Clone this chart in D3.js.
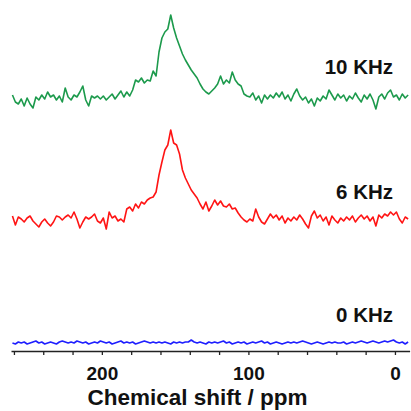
<!DOCTYPE html>
<html>
<head>
<meta charset="utf-8">
<script src="https://cdn.jsdelivr.net/npm/d3@7"></script>
<style>
  html, body { margin: 0; padding: 0; background: #fff; }
  svg { display: block; }
  text { font-family: Arial, "Liberation Sans", sans-serif; font-weight: bold; fill: #111; }
</style>
</head>
<body>
<svg id="chart" width="411" height="411"></svg>
<script>
// Chemical shift grid (ppm): 261 down to -9 in 2 ppm steps
const ppmStart = 261;
const ppmStep = 2;

// Spectrum intensities (a.u., baseline-corrected) at each grid point
const int10kHz = [
  3, -4, -6, -1, -8, 0, -6, -10, 1, -2,
  3, -1, 6, 1, 3, -2, 2, -4, 10, 1,
  -2, 3, 1, 6, 12, -2, -8, 2, 0, 2,
  -1, 2, -2, 1, 4, -1, 3, 7, 1, 6,
  2, 8, 18, 16, 20, 15, 18, 17, 27, 22,
  46, 60, 66, 69, 83, 70, 60, 52, 44, 38,
  33, 28, 24, 20, 14, 9, 6, 4, 7, 10,
  14, 22, 14, 18, 15, 26, 18, 14, 12, 4,
  2, 1, 5, -2, 2, -5, 3, -1, 3, 0,
  5, 1, 6, -1, 3, -3, 4, 9, 2, -2,
  1, -5, -1, -8, 0, -3, 2, -1, 8, 3,
  -2, 4, 0, 3, -3, 2, -1, 5, 0, -4,
  3, -1, 4, -2, -11, 1, 4, -1, 5, 8,
  1, 3, -2, 4, 0, 3
];

const int6kHz = [
  4, -5, 3, 1, -2, 2, 4, -1, -4, -7,
  -2, 1, -3, -6, -2, 4, 3, 0, 3, 5,
  2, 8, 1, -8, -2, 3, 1, 3, 6, -1,
  -3, 2, -9, 8, 2, 4, -1, 1, -2, 11,
  13, 9, 16, 12, 18, 16, 20, 22, 23, 28,
  45, 58, 70, 75, 90, 77, 75, 66, 50, 42,
  36, 30, 26, 22, 16, 11, 18, 9, 14, 20,
  15, 19, 14, 13, 16, 11, 12, 7, 3, 0,
  -2, 1, -1, 11, 3, -2, -4, 1, 6, 2,
  5, 0, 4, -3, 2, -1, 3, 0, 5, 1,
  -4, -8, 4, 9, 2, 5, -1, 3, -5, 4,
  0, -3, 2, -1, 3, 0, 4, -2, 2, 5,
  1, 4, -1, 3, -6, 5, 2, 6, 4, 8,
  5, 8, 1, -3, 3, 1
];

const int0kHz = [
  0, -1, 1, 0, 1, -1, 0, 1, 2, 0,
  1, -1, 0, 1, 0, -1, 1, 2, 1, 0,
  1, 0, 2, 1, 0, 1, -1, 0, 1, 0,
  2, 1, 0, 1, -1, 0, 1, 2, 0, 1,
  0, 1, -1, 0, 1, 2, 1, 0, 1, 0,
  1, 0, 1, 0, -1, 1, 0, 1, 0, 1,
  1, 3, 1, 0, 1, 0, -1, 1, 0, 1,
  0, 1, 2, 0, 1, -1, 0, 1, 0, 1,
  -1, 0, 1, 0, 1, 2, 0, 1, -1, 0,
  1, 0, -1, 0, 1, 0, 1, 0, 1, 2,
  1, 0, -1, 0, 1, 0, -1, 0, 1, 0,
  1, 0, 0, 1, -1, 0, 1, 0, 1, 2,
  1, 0, 1, 2, 1, 0, 1, 2, 1, 2,
  3, 1, 0, 1, -1, 1
];

const seriesLabels = ["10 KHz", "6 KHz", "0 KHz"];
const axisTicks = [260, 240, 220, 200, 180, 160, 140, 120, 100, 80, 60, 40, 20, 0];
const axisTickLabels = [200, 100, 0];
const axisTitle = "Chemical shift / ppm";

// Layout
const svg = d3.select("#chart");
const axisY = 351;
const x = d3.scaleLinear().domain([262, -10]).range([11, 409.6]);
// Shared intensity scale, one pixel per unit, drawn upward from each baseline
const y = d3.scaleLinear().domain([0, 100]).range([0, -100]);

const traces = [
  { values: int10kHz, color: "#1c9a4c", base: 98,  label: seriesLabels[0], labelY: 74 },
  { values: int6kHz,  color: "#ff1414", base: 220, label: seriesLabels[1], labelY: 199 },
  { values: int0kHz,  color: "#1f1fff", base: 343, label: seriesLabels[2], labelY: 322 }
];

const line = d3.line()
  .x((d, i) => x(ppmStart - i * ppmStep))
  .y(d => y(d))
  .curve(d3.curveLinear);

traces.forEach(t => {
  const g = svg.append("g").attr("transform", `translate(0,${t.base})`);
  g.append("path")
    .datum(t.values)
    .attr("d", line)
    .attr("fill", "none")
    .attr("stroke", t.color)
    .attr("stroke-width", 1.6)
    .attr("stroke-linejoin", "round");
  svg.append("text")
    .attr("x", 393)
    .attr("y", t.labelY)
    .attr("text-anchor", "end")
    .attr("font-size", 20.5)
    .text(t.label);
});

// Bottom axis with minor ticks every 20 ppm and labels every 100 ppm
const axis = d3.axisBottom(x)
  .tickValues(axisTicks)
  .tickFormat(d => axisTickLabels.includes(d) ? d : "")
  .tickSize(4)
  .tickSizeOuter(0)
  .tickPadding(12);

const ag = svg.append("g")
  .attr("transform", `translate(0,${axisY})`)
  .call(axis);
ag.select(".domain").attr("stroke", "#222").attr("stroke-width", 1.5);
ag.selectAll(".tick line").attr("stroke", "#222").attr("stroke-width", 1.3);
ag.selectAll(".tick text")
  .attr("font-size", 19)
  .attr("font-family", "Arial, 'Liberation Sans', sans-serif")
  .attr("font-weight", "bold")
  .attr("fill", "#111");

svg.append("text")
  .attr("x", 197.5)
  .attr("y", 405)
  .attr("text-anchor", "middle")
  .attr("font-size", 22.5)
  .text(axisTitle);
</script>
</body>
</html>
